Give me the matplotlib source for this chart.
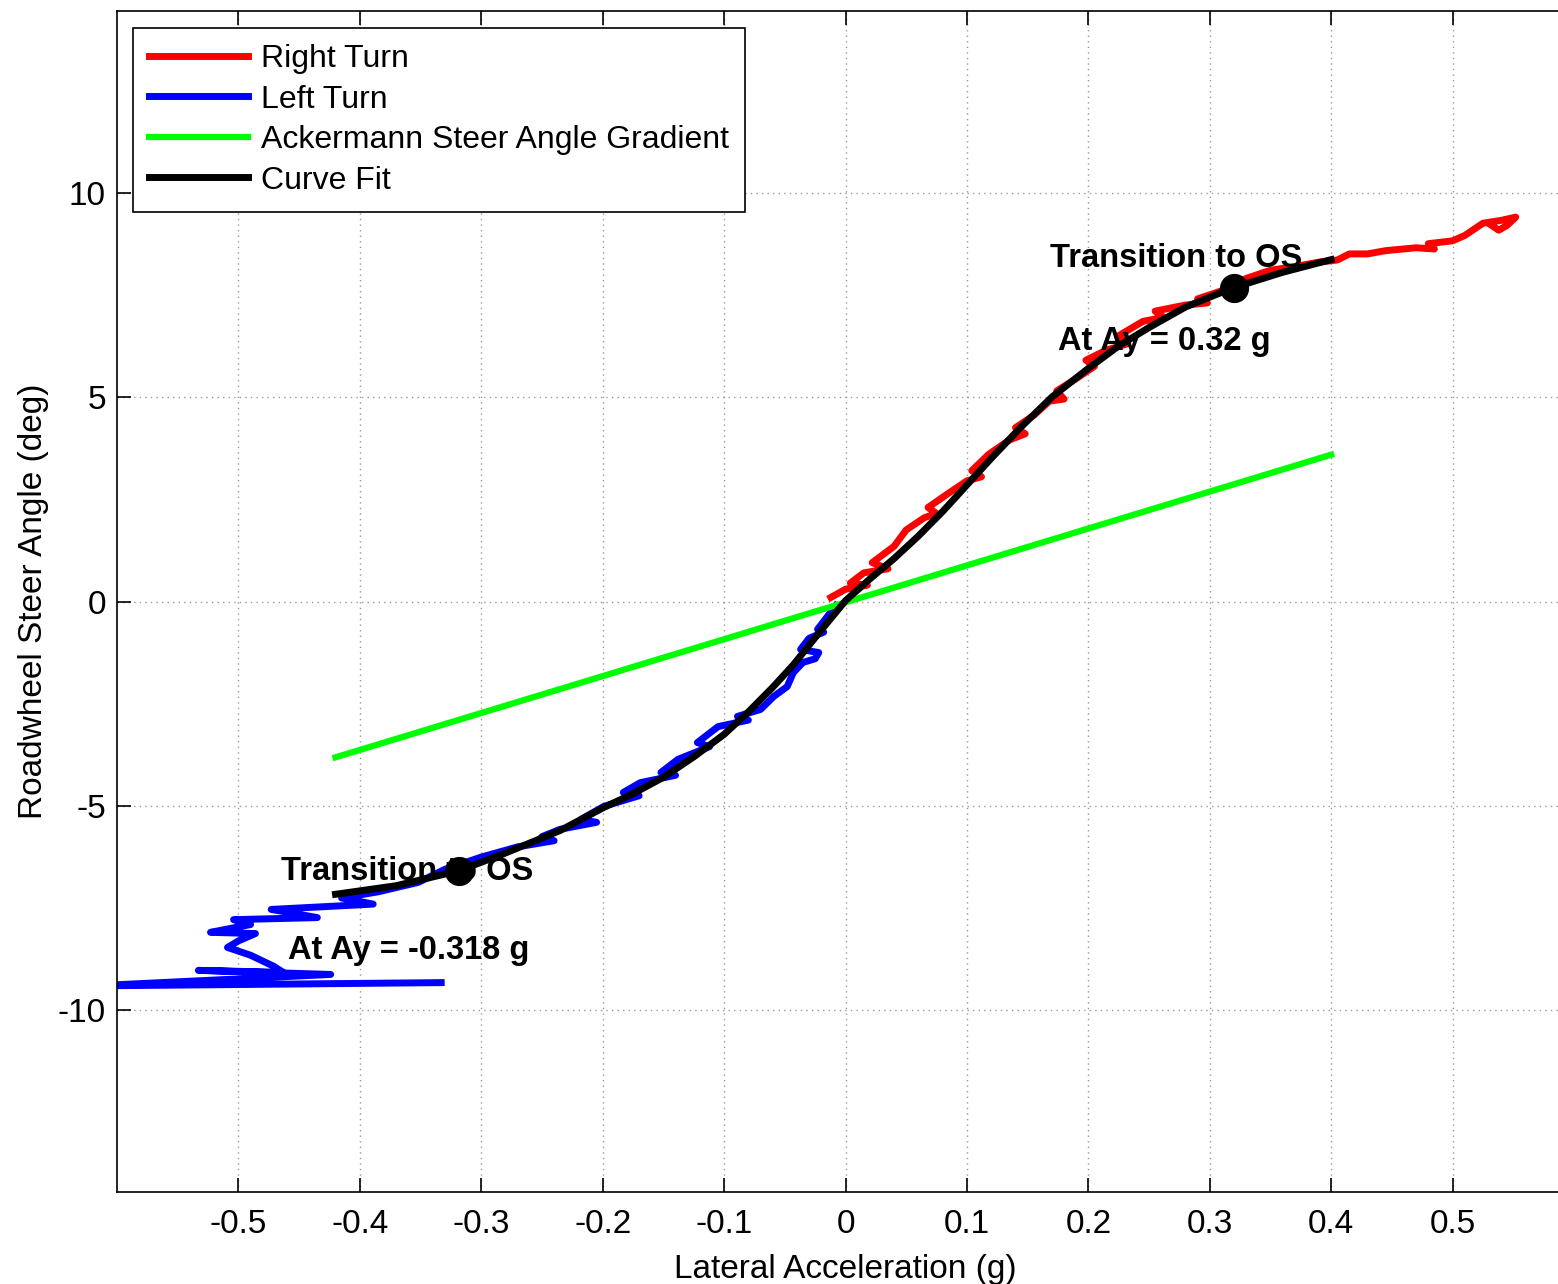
import numpy as np
import matplotlib.pyplot as plt

plt.rcParams['font.family'] = ['Liberation Sans', 'DejaVu Sans']

# right turn measured data (lateral acc g, steer deg)
right_ay = [-0.012, 0.000, 0.018, 0.004, 0.015, 0.035, 0.022, 0.040, 0.050, 0.065,
            0.075, 0.068, 0.085, 0.100, 0.112, 0.104, 0.118, 0.135, 0.148, 0.140,
            0.155, 0.168, 0.180, 0.174, 0.190, 0.205, 0.198, 0.215, 0.232, 0.225,
            0.245, 0.262, 0.255, 0.280, 0.298, 0.290, 0.310, 0.330, 0.350, 0.372,
            0.390, 0.405, 0.415, 0.430, 0.445, 0.470, 0.485, 0.480, 0.500, 0.510,
            0.525, 0.540, 0.552, 0.545, 0.538, 0.532]
right_steer = [0.10, 0.30, 0.40, 0.45, 0.70, 0.80, 0.95, 1.35, 1.75, 2.05,
               2.15, 2.30, 2.65, 2.95, 3.05, 3.20, 3.60, 3.95, 4.10, 4.25,
               4.55, 4.90, 4.95, 5.15, 5.45, 5.75, 5.90, 6.15, 6.30, 6.50,
               6.85, 6.95, 7.10, 7.25, 7.30, 7.40, 7.60, 7.90, 8.10, 8.20,
               8.30, 8.35, 8.50, 8.50, 8.58, 8.65, 8.62, 8.75, 8.82, 8.95,
               9.25, 9.32, 9.40, 9.20, 9.08, 9.20]

# left turn measured data
left_ay = [-0.008, -0.015, -0.023, -0.018, -0.030, -0.037, -0.022, -0.025, -0.035, -0.043,
           -0.048, -0.059, -0.070, -0.089, -0.080, -0.105, -0.122, -0.112, -0.138, -0.152,
           -0.140, -0.169, -0.183, -0.170, -0.199, -0.218, -0.205, -0.235, -0.250, -0.240,
           -0.270, -0.300, -0.330, -0.352, -0.385, -0.415, -0.389, -0.473, -0.435, -0.504,
           -0.490, -0.504, -0.523, -0.486, -0.500, -0.509, -0.490, -0.471, -0.463, -0.533,
           -0.424, -0.620, -0.333]
left_steer = [-0.10, -0.37, -0.68, -0.75, -0.90, -1.17, -1.25, -1.40, -1.49, -1.74,
              -2.08, -2.32, -2.64, -2.81, -2.90, -3.06, -3.45, -3.55, -3.86, -4.18,
              -4.25, -4.43, -4.67, -4.75, -5.01, -5.33, -5.40, -5.57, -5.75, -5.85,
              -6.00, -6.25, -6.55, -6.87, -7.10, -7.25, -7.40, -7.53, -7.73, -7.78,
              -7.90, -7.98, -8.09, -8.12, -8.30, -8.46, -8.65, -8.92, -9.07, -9.02,
              -9.12, -9.40, -9.32]

# ackermann gradient
ack_ay = [-0.42, 0.40]
ack_steer = [-3.81, 3.59]

# curve fit
fit_ay = [-0.42, -0.37, -0.318, -0.28, -0.235, -0.2, -0.175, -0.15, -0.125, -0.1,
          -0.08, -0.06, -0.043, -0.02, 0.0, 0.02, 0.04, 0.06, 0.08, 0.1,
          0.12, 0.144, 0.17, 0.2, 0.225, 0.25, 0.28, 0.318, 0.36, 0.4]
fit_steer = [-7.16, -6.95, -6.58, -6.15, -5.6, -5.05, -4.7, -4.3, -3.8, -3.25,
             -2.7, -2.1, -1.55, -0.7, 0.02, 0.55, 1.05, 1.6, 2.2, 2.85,
             3.5, 4.25, 5.0, 5.7, 6.25, 6.7, 7.2, 7.66, 8.05, 8.36]

trans_ay = [0.32, -0.318]
trans_steer = [7.66, -6.58]

fig = plt.figure(figsize=(15.58, 12.84), dpi=100)
ax = fig.add_axes([117/1558, 92/1284, 1457/1558, 1181/1284])

ax.plot(right_ay, right_steer, color='#ff0000', lw=5, label='Right Turn')
ax.plot(left_ay, left_steer, color='#0000ff', lw=5, label='Left Turn')
ax.plot(ack_ay, ack_steer, color='#00ff00', lw=4.5, label='Ackermann Steer Angle Gradient')
ax.plot(fit_ay, fit_steer, color='k', lw=5, label='Curve Fit')
ax.plot(trans_ay, trans_steer, 'o', color='k', ms=20)

ax.text(0.1687, 8.19, 'Transition to OS', fontsize=23.5, fontweight='bold')
ax.text(0.175, 6.16, 'At Ay = 0.32 g', fontsize=23.5, fontweight='bold')
ax.text(-0.465, -6.80, 'Transition to OS', fontsize=23.5, fontweight='bold')
ax.text(-0.459, -8.75, 'At Ay = -0.318 g', fontsize=23.5, fontweight='bold')

ax.set_xlim(-0.6, 0.6)
ax.set_ylim(-14.44, 14.44)
ax.set_xticks([-0.5, -0.4, -0.3, -0.2, -0.1, 0, 0.1, 0.2, 0.3, 0.4, 0.5])
ax.set_xticklabels(['-0.5', '-0.4', '-0.3', '-0.2', '-0.1', '0', '0.1', '0.2', '0.3', '0.4', '0.5'])
ax.set_yticks([-10, -5, 0, 5, 10])
ax.set_yticklabels(['-10', '-5', '0', '5', '10'])
ax.tick_params(direction='in', length=10, width=1.2, labelsize=24, top=True, right=True)
ax.tick_params(axis='x', pad=12)
ax.tick_params(axis='y', pad=8)
ax.grid(True, linestyle=(0, (1, 3)), color='#999999', lw=1)
for s in ax.spines.values():
    s.set_linewidth(1.2)

ax.set_xlabel('Lateral Acceleration (g)', fontsize=24, labelpad=10)
ax.set_ylabel('Roadwheel Steer Angle (deg)', fontsize=24, labelpad=6)

leg = ax.legend(loc='upper left', bbox_to_anchor=(0.011, 0.9856), borderaxespad=0,
                fontsize=23, fancybox=False, edgecolor='k', framealpha=1,
                handlelength=3.1, handletextpad=0.4, labelspacing=0.33, borderpad=0.5)
leg.get_frame().set_linewidth(1.2)

fig.savefig('out.png', dpi=100)
